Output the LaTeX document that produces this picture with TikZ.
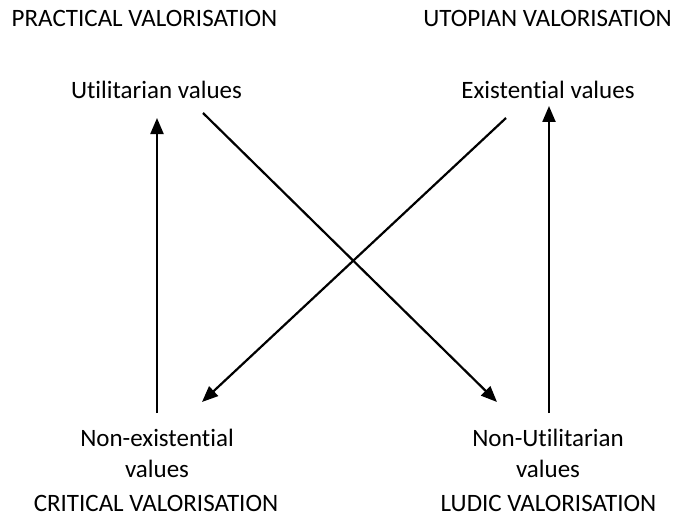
\documentclass[tikz,border=0pt]{standalone}
\usepackage{fontspec}
\setmainfont{Carlito}[Ligatures=NoCommon]
\usetikzlibrary{arrows.meta}
\begin{document}
\begin{tikzpicture}[x=1pt,y=-1pt,
  lbl/.style={inner sep=0pt,anchor=base,align=center,font=\fontsize{25}{31}\selectfont},
  arr/.style={line width=2.2pt,-{Triangle[length=16pt,width=13pt]}}]
\useasboundingbox (0,0) rectangle (674,516);
\node[lbl] (prac) at (144.5,27) {PRACTICAL VALORISATION};
\node[lbl] (utop) at (547.5,27) {UTOPIAN VALORISATION};
\node[lbl] (util) at (156.5,99) {Utilitarian values};
\node[lbl] (exis) at (548,99) {Existential values};
\node[lbl] (nonex) at (157,477) {Non-existential\\values};
\node[lbl] (nonut) at (548,477) {Non-Utilitarian\\values};
\node[lbl] (crit) at (156,511) {CRITICAL VALORISATION};
\node[lbl] (ludic) at (548.5,511) {LUDIC VALORISATION};
\coordinate (lb) at (157,413);
\coordinate (lt) at (157,118);
\coordinate (rb) at (549,413);
\coordinate (rt) at (549,106);
\coordinate (u1) at (203,113);
\coordinate (u2) at (497,402);
\coordinate (e1) at (506,118);
\coordinate (e2) at (202,402);
\draw[arr] (lb) -- (lt);
\draw[arr] (rb) -- (rt);
\draw[arr] (u1) -- (u2);
\draw[arr] (e1) -- (e2);
\end{tikzpicture}
\end{document}
